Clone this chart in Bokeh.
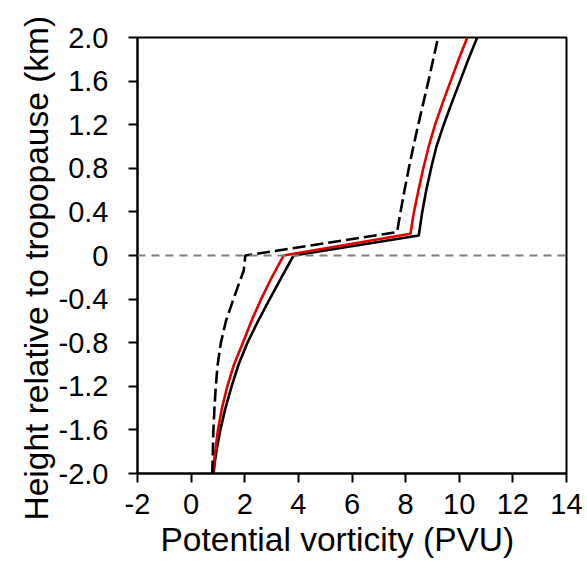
from bokeh.plotting import figure
from bokeh.models import FixedTicker, Span, Range1d, Title
from bokeh.embed import file_html
from bokeh.resources import INLINE

# ---- data ----
x_ticks = [-2, 0, 2, 4, 6, 8, 10, 12, 14]
x_tick_labels = ["-2", "0", "2", "4", "6", "8", "10", "12", "14"]
y_ticks = [-2.0, -1.6, -1.2, -0.8, -0.4, 0.0, 0.4, 0.8, 1.2, 1.6, 2.0]
y_tick_labels = ["-2.0", "-1.6", "-1.2", "-0.8", "-0.4", "0", "0.4", "0.8", "1.2", "1.6", "2.0"]
x_title = "Potential vorticity (PVU)"
y_title = "Height relative to tropopause (km)"

black_height = [-2.0, -1.9, -1.8, -1.6, -1.4, -1.2, -1.0, -0.8, -0.6, -0.4, -0.2, 0.0,
                0.184, 0.4, 0.6, 0.8, 1.0, 1.2, 1.4, 1.6, 1.8, 2.0]
black_pv = [0.84, 0.88, 0.94, 1.09, 1.28, 1.51, 1.77, 2.10, 2.50, 2.93, 3.37, 3.82,
            8.49, 8.62, 8.77, 8.95, 9.15, 9.42, 9.72, 10.03, 10.34, 10.67]

red_height = [-2.0, -1.9, -1.8, -1.6, -1.4, -1.2, -1.0, -0.8, -0.6, -0.4, -0.2, 0.0,
              0.2, 0.4, 0.6, 0.8, 1.0, 1.2, 1.4, 1.6, 1.8, 2.0]
red_pv = [0.82, 0.85, 0.90, 1.00, 1.15, 1.35, 1.60, 1.93, 2.25, 2.61, 3.01, 3.45,
          8.18, 8.31, 8.48, 8.66, 8.86, 9.10, 9.38, 9.68, 9.98, 10.30]

dashed_height = [-2.0, -1.8, -1.6, -1.4, -1.2, -1.0, -0.8, -0.6, -0.4, -0.26, -0.14, 0.0,
                 0.214, 0.4, 0.6, 0.8, 1.0, 1.2, 1.4, 1.6, 1.8, 2.0]
dashed_pv = [0.79, 0.81, 0.83, 0.87, 0.92, 0.99, 1.11, 1.30, 1.58, 1.78, 1.96, 2.02,
             7.68, 7.81, 7.96, 8.12, 8.29, 8.47, 8.66, 8.85, 9.03, 9.21]

tropopause_height = 0.0

FONT = "Liberation Sans"
x_min, x_max = x_ticks[0], x_ticks[-1]
y_min, y_max = y_ticks[0], y_ticks[-1]

p = figure(width=587, height=562, output_backend="svg", toolbar_location=None,
           x_range=Range1d(x_min, x_max), y_range=Range1d(y_min, y_max),
           min_border_left=137, min_border_right=21, min_border_top=37, min_border_bottom=89)

p.xgrid.visible = False
p.ygrid.visible = False
p.background_fill_color = "white"
p.border_fill_color = "white"
p.outline_line_color = "black"
p.outline_line_width = 2
p.outline_line_alpha = 1

p.xaxis.ticker = FixedTicker(ticks=x_ticks)
p.yaxis.ticker = FixedTicker(ticks=y_ticks)
p.xaxis.major_label_overrides = {t: l for t, l in zip(x_ticks, x_tick_labels)}
p.yaxis.major_label_overrides = {t: l for t, l in zip(y_ticks, y_tick_labels)}

for ax in (p.xaxis[0], p.yaxis[0]):
    ax.axis_line_color = "black"
    ax.axis_line_width = 2
    ax.major_tick_line_color = "black"
    ax.major_tick_line_width = 2
    ax.major_tick_out = 9
    ax.major_tick_in = 0
    ax.minor_tick_line_color = None
    ax.major_label_text_font = FONT
    ax.major_label_text_font_size = "29px"
    ax.major_label_text_color = "black"

p.xaxis.major_label_standoff = 11
p.yaxis.major_label_standoff = 20

# axis titles as side-panel titles (start-aligned with an offset along the axis)
p.add_layout(Title(text=x_title, align="left", offset=23, standoff=4,
                   text_font=FONT, text_font_size="33.5px", text_font_style="normal",
                   text_color="black"), "below")
p.add_layout(Title(text=y_title, align="left", offset=-47, standoff=1,
                   text_font=FONT, text_font_size="33.5px", text_font_style="normal",
                   text_color="black"), "left")

p.add_layout(Span(location=tropopause_height, dimension="width", line_color="#808080",
                  line_width=2, line_dash="8 6"))

p.line(black_pv, black_height, line_color="black", line_width=2.6)
p.line(red_pv, red_height, line_color="#e00000", line_width=2.6)
p.line(dashed_pv, dashed_height, line_color="black", line_width=2.6, line_dash="13 5")

open("out.html", "w").write(file_html(p, INLINE))
